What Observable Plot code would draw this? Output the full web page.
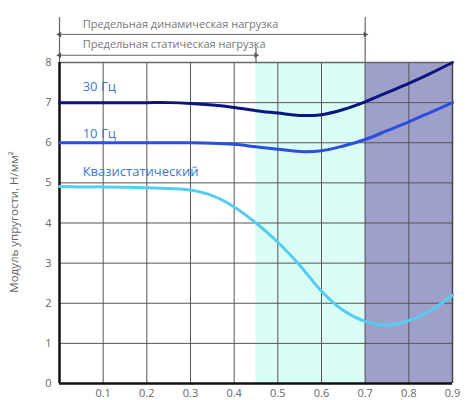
<!DOCTYPE html>
<html><head><meta charset="utf-8">
<script src="https://cdn.jsdelivr.net/npm/d3@7"></script>
<script src="https://cdn.jsdelivr.net/npm/@observablehq/plot@0.6"></script>
<style>body{margin:0;background:#fff;font-family:"Open Sans",sans-serif}</style>
</head><body><div id="chart"></div>
<script>
const xs = [0,0.05,0.1,0.15,0.2,0.25,0.3,0.35,0.4,0.45,0.5,0.55,0.6,0.65,0.7,0.75,0.8,0.85,0.9];
const hz30 = [7.0,7.0,7.0,7.0,7.0,7.0,6.98,6.94,6.88,6.8,6.74,6.68,6.7,6.83,7.02,7.25,7.48,7.73,8.0];
const hz10 = [6.0,6.0,6.0,6.0,6.0,6.0,6.0,5.99,5.96,5.9,5.84,5.78,5.8,5.92,6.08,6.3,6.52,6.76,7.0];
const quasi = [4.91,4.9,4.9,4.89,4.88,4.86,4.82,4.68,4.4,4.0,3.52,2.95,2.3,1.82,1.55,1.46,1.57,1.82,2.2];
const seriesNames = ["30 Гц","10 Гц","Квазистатический"];
const xTicks = [0.1,0.2,0.3,0.4,0.5,0.6,0.7,0.8,0.9];
const yTicks = [0,1,2,3,4,5,6,7,8];
const staticLimit = 0.45;
const dynamicLimit = 0.7;
const xMax = 0.9;
const yMax = 8;
const annotations = ["Предельная динамическая нагрузка","Предельная статическая нагрузка"];
const yTitle = "Модуль упругости, Н/мм²";

const pts = (ys) => xs.map((x,i)=>({x, y: ys[i]}));
const gridX = xTicks.slice(0,-1);
const gridY = yTicks.slice(1,-1);

const chart = Plot.plot({
  width: 470, height: 400,
  marginLeft: 59, marginRight: 18, marginTop: 62, marginBottom: 17,
  style: {fontFamily: "'Open Sans', sans-serif", fontSize: "11px", color: "#666", background: "#fff", overflow: "visible"},
  x: {domain: [0, xMax], ticks: xTicks, tickFormat: d => d.toFixed(1), tickSize: 0, tickPadding: 6, label: null},
  y: {domain: [0, yMax], ticks: yTicks, tickSize: 0, tickPadding: 8, label: null},
  marks: [
    Plot.rect([{x1: staticLimit, x2: dynamicLimit}], {x1:"x1", x2:"x2", y1:0, y2:yMax, fill:"#d9fcf4"}),
    Plot.rect([{x1: dynamicLimit, x2: xMax}], {x1:"x1", x2:"x2", y1:0, y2:yMax, fill:"#9fa0c9"}),
    Plot.ruleX(gridX, {y1:0, y2:yMax, stroke:"#555", strokeWidth:1}),
    Plot.ruleY(gridY, {x1:0, x2:xMax, stroke:"#555", strokeWidth:1}),
    Plot.ruleY([yMax], {x1:0, x2:xMax, stroke:"#666", strokeWidth:1.5}),
    Plot.ruleX([xMax], {y1:0, y2:yMax, stroke:"#444", strokeWidth:1.5}),
    Plot.ruleX([0], {y1:0, y2:yMax, stroke:"#111", strokeWidth:2.5}),
    Plot.ruleY([0], {x1:0, x2:xMax, stroke:"#111", strokeWidth:2.5}),
    Plot.line(pts(quasi), {x:"x", y:"y", stroke:"#55ccf0", strokeWidth:3, curve:"catmull-rom"}),
    Plot.line(pts(hz10), {x:"x", y:"y", stroke:"#2a4ee0", strokeWidth:3, curve:"catmull-rom"}),
    Plot.line(pts(hz30), {x:"x", y:"y", stroke:"#0b1580", strokeWidth:3, curve:"catmull-rom"}),
    Plot.text(seriesNames, {x: 0.053, y: [7.4, 6.23, 5.28], text: d=>d, textAnchor:"start", fill:"#3b78d8", fontSize:13}),
    // annotations above
    Plot.ruleX([0, dynamicLimit], {y1: yMax, y2: 9.12, stroke:"#666", strokeWidth:1.2, clip:false}),
    Plot.ruleX([staticLimit], {y1: yMax, y2: 8.37, stroke:"#666", strokeWidth:1.2}),
    Plot.ruleY([8.7], {x1:0, x2:dynamicLimit, stroke:"#666", strokeWidth:1}),
    Plot.ruleY([8.18], {x1:0, x2:staticLimit, stroke:"#666", strokeWidth:1}),
    Plot.dot([{x:0,y:8.7,r:-90},{x:dynamicLimit,y:8.7,r:90},{x:0,y:8.18,r:-90},{x:staticLimit,y:8.18,r:90}],
      {x:"x", y:"y", rotate:"r", symbol:"triangle2", r:2.6, fill:"#555", stroke:"none", dx: 0}),
    Plot.text([annotations[0]], {x:0.053, y:8.96, text:d=>d, textAnchor:"start", fill:"#777", fontSize:11}),
    Plot.text([annotations[1]], {x:0.053, y:8.46, text:d=>d, textAnchor:"start", fill:"#777", fontSize:11}),
  ]
});
// y-axis title
const svg = d3.select(chart);
svg.append("text").attr("transform","translate(18,222) rotate(-90)")
  .attr("text-anchor","middle").attr("fill","#666").attr("font-size","11.5px")
  .attr("font-family","'Open Sans', sans-serif").text(yTitle);
document.getElementById("chart").appendChild(chart);
</script></body></html>
